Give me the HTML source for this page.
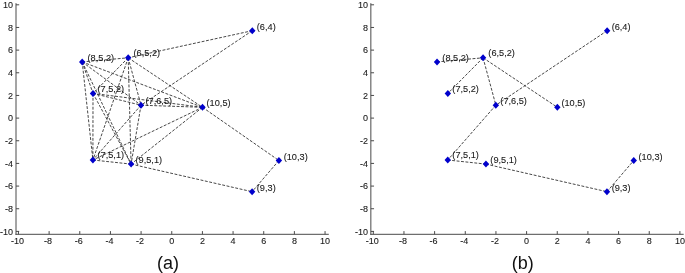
<!DOCTYPE html><html><head><meta charset="utf-8"><style>html,body{margin:0;padding:0;background:#fff;}svg{display:block;will-change:transform;}text{font-family:"Liberation Sans",sans-serif;}</style></head><body>
<svg width="685" height="273" viewBox="0 0 685 273">
<rect x="0" y="0" width="685" height="273" fill="#fff"/>
<g stroke="#4a4a4a" stroke-width="1" fill="none">
<line x1="16.00" y1="3.2" x2="16.00" y2="234.80"/>
<line x1="15.50" y1="234.30" x2="328.80" y2="234.30"/>
<line x1="16.00" y1="231.40" x2="19.20" y2="231.40"/>
<line x1="18.45" y1="234.30" x2="18.45" y2="231.10"/>
<line x1="16.00" y1="208.74" x2="19.20" y2="208.74"/>
<line x1="49.11" y1="234.30" x2="49.11" y2="231.10"/>
<line x1="16.00" y1="186.08" x2="19.20" y2="186.08"/>
<line x1="79.77" y1="234.30" x2="79.77" y2="231.10"/>
<line x1="16.00" y1="163.42" x2="19.20" y2="163.42"/>
<line x1="110.43" y1="234.30" x2="110.43" y2="231.10"/>
<line x1="16.00" y1="140.76" x2="19.20" y2="140.76"/>
<line x1="141.09" y1="234.30" x2="141.09" y2="231.10"/>
<line x1="16.00" y1="118.10" x2="19.20" y2="118.10"/>
<line x1="171.75" y1="234.30" x2="171.75" y2="231.10"/>
<line x1="16.00" y1="95.44" x2="19.20" y2="95.44"/>
<line x1="202.41" y1="234.30" x2="202.41" y2="231.10"/>
<line x1="16.00" y1="72.78" x2="19.20" y2="72.78"/>
<line x1="233.07" y1="234.30" x2="233.07" y2="231.10"/>
<line x1="16.00" y1="50.12" x2="19.20" y2="50.12"/>
<line x1="263.73" y1="234.30" x2="263.73" y2="231.10"/>
<line x1="16.00" y1="27.46" x2="19.20" y2="27.46"/>
<line x1="294.39" y1="234.30" x2="294.39" y2="231.10"/>
<line x1="16.00" y1="4.80" x2="19.20" y2="4.80"/>
<line x1="325.05" y1="234.30" x2="325.05" y2="231.10"/>
</g>
<g font-size="9" fill="#1a1a1a" stroke="#1a1a1a" stroke-width="0.1">
<text x="13.10" y="234.50" text-anchor="end">-10</text>
<text x="17.45" y="243.90" text-anchor="middle">-10</text>
<text x="13.10" y="211.84" text-anchor="end">-8</text>
<text x="48.11" y="243.90" text-anchor="middle">-8</text>
<text x="13.10" y="189.18" text-anchor="end">-6</text>
<text x="78.77" y="243.90" text-anchor="middle">-6</text>
<text x="13.10" y="166.52" text-anchor="end">-4</text>
<text x="109.43" y="243.90" text-anchor="middle">-4</text>
<text x="13.10" y="143.86" text-anchor="end">-2</text>
<text x="140.09" y="243.90" text-anchor="middle">-2</text>
<text x="13.10" y="121.20" text-anchor="end">0</text>
<text x="171.75" y="243.90" text-anchor="middle">0</text>
<text x="13.10" y="98.54" text-anchor="end">2</text>
<text x="202.41" y="243.90" text-anchor="middle">2</text>
<text x="13.10" y="75.88" text-anchor="end">4</text>
<text x="233.07" y="243.90" text-anchor="middle">4</text>
<text x="13.10" y="53.22" text-anchor="end">6</text>
<text x="263.73" y="243.90" text-anchor="middle">6</text>
<text x="13.10" y="30.56" text-anchor="end">8</text>
<text x="294.39" y="243.90" text-anchor="middle">8</text>
<text x="13.10" y="7.90" text-anchor="end">10</text>
<text x="325.05" y="243.90" text-anchor="middle">10</text>
</g>
<g stroke="#333" stroke-width="0.9" stroke-dasharray="2.9 1.55" fill="none">
<line x1="82.20" y1="61.90" x2="128.20" y2="57.80"/>
<line x1="82.20" y1="61.90" x2="93.00" y2="93.40"/>
<line x1="82.20" y1="61.90" x2="141.00" y2="105.20"/>
<line x1="82.20" y1="61.90" x2="202.50" y2="107.30"/>
<line x1="82.20" y1="61.90" x2="92.90" y2="160.00"/>
<line x1="82.20" y1="61.90" x2="131.10" y2="164.10"/>
<line x1="128.20" y1="57.80" x2="93.00" y2="93.40"/>
<line x1="128.20" y1="57.80" x2="141.00" y2="105.20"/>
<line x1="128.20" y1="57.80" x2="202.50" y2="107.30"/>
<line x1="128.20" y1="57.80" x2="92.90" y2="160.00"/>
<line x1="128.20" y1="57.80" x2="131.10" y2="164.10"/>
<line x1="93.00" y1="93.40" x2="141.00" y2="105.20"/>
<line x1="93.00" y1="93.40" x2="202.50" y2="107.30"/>
<line x1="93.00" y1="93.40" x2="92.90" y2="160.00"/>
<line x1="93.00" y1="93.40" x2="131.10" y2="164.10"/>
<line x1="141.00" y1="105.20" x2="202.50" y2="107.30"/>
<line x1="141.00" y1="105.20" x2="92.90" y2="160.00"/>
<line x1="141.00" y1="105.20" x2="131.10" y2="164.10"/>
<line x1="202.50" y1="107.30" x2="92.90" y2="160.00"/>
<line x1="202.50" y1="107.30" x2="131.10" y2="164.10"/>
<line x1="92.90" y1="160.00" x2="131.10" y2="164.10"/>
<line x1="252.30" y1="30.70" x2="128.20" y2="57.80"/>
<line x1="252.30" y1="30.70" x2="141.00" y2="105.20"/>
<line x1="202.50" y1="107.30" x2="278.90" y2="160.50"/>
<line x1="278.90" y1="160.50" x2="252.10" y2="191.70"/>
<line x1="131.10" y1="164.10" x2="252.10" y2="191.70"/>
</g>
<g fill="#0000cc">
<path d="M82.20 58.40L85.40 61.90L82.20 65.40L79.00 61.90Z"/>
<path d="M128.20 54.30L131.40 57.80L128.20 61.30L125.00 57.80Z"/>
<path d="M93.00 89.90L96.20 93.40L93.00 96.90L89.80 93.40Z"/>
<path d="M141.00 101.70L144.20 105.20L141.00 108.70L137.80 105.20Z"/>
<path d="M202.50 103.80L205.70 107.30L202.50 110.80L199.30 107.30Z"/>
<path d="M252.30 27.20L255.50 30.70L252.30 34.20L249.10 30.70Z"/>
<path d="M278.90 157.00L282.10 160.50L278.90 164.00L275.70 160.50Z"/>
<path d="M92.90 156.50L96.10 160.00L92.90 163.50L89.70 160.00Z"/>
<path d="M131.10 160.60L134.30 164.10L131.10 167.60L127.90 164.10Z"/>
<path d="M252.10 188.20L255.30 191.70L252.10 195.20L248.90 191.70Z"/>
</g>
<g font-size="9.2" fill="#1a1a1a" stroke="#1a1a1a" stroke-width="0.1">
<text x="87.50" y="60.50">(8,5,2)</text>
<text x="133.50" y="56.25">(6,5,2)</text>
<text x="97.50" y="91.80">(7,5,2)</text>
<text x="145.50" y="103.50">(7,6,5)</text>
<text x="206.55" y="106.00">(10,5)</text>
<text x="256.80" y="30.00">(6,4)</text>
<text x="283.70" y="159.70">(10,3)</text>
<text x="97.50" y="157.80">(7,5,1)</text>
<text x="135.50" y="162.50">(9,5,1)</text>
<text x="256.80" y="191.00">(9,3)</text>
</g>
<text x="168.00" y="268.8" font-size="18" text-anchor="middle" fill="#111">(a)</text>
<g stroke="#4a4a4a" stroke-width="1" fill="none">
<line x1="370.85" y1="3.2" x2="370.85" y2="234.80"/>
<line x1="370.35" y1="234.30" x2="683.65" y2="234.30"/>
<line x1="370.85" y1="231.40" x2="374.05" y2="231.40"/>
<line x1="373.30" y1="234.30" x2="373.30" y2="231.10"/>
<line x1="370.85" y1="208.74" x2="374.05" y2="208.74"/>
<line x1="403.96" y1="234.30" x2="403.96" y2="231.10"/>
<line x1="370.85" y1="186.08" x2="374.05" y2="186.08"/>
<line x1="434.62" y1="234.30" x2="434.62" y2="231.10"/>
<line x1="370.85" y1="163.42" x2="374.05" y2="163.42"/>
<line x1="465.28" y1="234.30" x2="465.28" y2="231.10"/>
<line x1="370.85" y1="140.76" x2="374.05" y2="140.76"/>
<line x1="495.94" y1="234.30" x2="495.94" y2="231.10"/>
<line x1="370.85" y1="118.10" x2="374.05" y2="118.10"/>
<line x1="526.60" y1="234.30" x2="526.60" y2="231.10"/>
<line x1="370.85" y1="95.44" x2="374.05" y2="95.44"/>
<line x1="557.26" y1="234.30" x2="557.26" y2="231.10"/>
<line x1="370.85" y1="72.78" x2="374.05" y2="72.78"/>
<line x1="587.92" y1="234.30" x2="587.92" y2="231.10"/>
<line x1="370.85" y1="50.12" x2="374.05" y2="50.12"/>
<line x1="618.58" y1="234.30" x2="618.58" y2="231.10"/>
<line x1="370.85" y1="27.46" x2="374.05" y2="27.46"/>
<line x1="649.24" y1="234.30" x2="649.24" y2="231.10"/>
<line x1="370.85" y1="4.80" x2="374.05" y2="4.80"/>
<line x1="679.90" y1="234.30" x2="679.90" y2="231.10"/>
</g>
<g font-size="9" fill="#1a1a1a" stroke="#1a1a1a" stroke-width="0.1">
<text x="367.95" y="234.50" text-anchor="end">-10</text>
<text x="372.30" y="243.90" text-anchor="middle">-10</text>
<text x="367.95" y="211.84" text-anchor="end">-8</text>
<text x="402.96" y="243.90" text-anchor="middle">-8</text>
<text x="367.95" y="189.18" text-anchor="end">-6</text>
<text x="433.62" y="243.90" text-anchor="middle">-6</text>
<text x="367.95" y="166.52" text-anchor="end">-4</text>
<text x="464.28" y="243.90" text-anchor="middle">-4</text>
<text x="367.95" y="143.86" text-anchor="end">-2</text>
<text x="494.94" y="243.90" text-anchor="middle">-2</text>
<text x="367.95" y="121.20" text-anchor="end">0</text>
<text x="526.60" y="243.90" text-anchor="middle">0</text>
<text x="367.95" y="98.54" text-anchor="end">2</text>
<text x="557.26" y="243.90" text-anchor="middle">2</text>
<text x="367.95" y="75.88" text-anchor="end">4</text>
<text x="587.92" y="243.90" text-anchor="middle">4</text>
<text x="367.95" y="53.22" text-anchor="end">6</text>
<text x="618.58" y="243.90" text-anchor="middle">6</text>
<text x="367.95" y="30.56" text-anchor="end">8</text>
<text x="649.24" y="243.90" text-anchor="middle">8</text>
<text x="367.95" y="7.90" text-anchor="end">10</text>
<text x="679.90" y="243.90" text-anchor="middle">10</text>
</g>
<g stroke="#333" stroke-width="0.9" stroke-dasharray="2.9 1.55" fill="none">
<line x1="437.05" y1="61.90" x2="483.05" y2="57.80"/>
<line x1="483.05" y1="57.80" x2="447.85" y2="93.40"/>
<line x1="483.05" y1="57.80" x2="495.85" y2="105.20"/>
<line x1="483.05" y1="57.80" x2="557.35" y2="107.30"/>
<line x1="607.15" y1="30.70" x2="495.85" y2="105.20"/>
<line x1="495.85" y1="105.20" x2="447.75" y2="160.00"/>
<line x1="447.75" y1="160.00" x2="485.95" y2="164.10"/>
<line x1="485.95" y1="164.10" x2="606.95" y2="191.70"/>
<line x1="606.95" y1="191.70" x2="633.75" y2="160.50"/>
</g>
<g fill="#0000cc">
<path d="M437.05 58.40L440.25 61.90L437.05 65.40L433.85 61.90Z"/>
<path d="M483.05 54.30L486.25 57.80L483.05 61.30L479.85 57.80Z"/>
<path d="M447.85 89.90L451.05 93.40L447.85 96.90L444.65 93.40Z"/>
<path d="M495.85 101.70L499.05 105.20L495.85 108.70L492.65 105.20Z"/>
<path d="M557.35 103.80L560.55 107.30L557.35 110.80L554.15 107.30Z"/>
<path d="M607.15 27.20L610.35 30.70L607.15 34.20L603.95 30.70Z"/>
<path d="M633.75 157.00L636.95 160.50L633.75 164.00L630.55 160.50Z"/>
<path d="M447.75 156.50L450.95 160.00L447.75 163.50L444.55 160.00Z"/>
<path d="M485.95 160.60L489.15 164.10L485.95 167.60L482.75 164.10Z"/>
<path d="M606.95 188.20L610.15 191.70L606.95 195.20L603.75 191.70Z"/>
</g>
<g font-size="9.2" fill="#1a1a1a" stroke="#1a1a1a" stroke-width="0.1">
<text x="442.35" y="60.50">(8,5,2)</text>
<text x="488.35" y="56.25">(6,5,2)</text>
<text x="452.35" y="91.80">(7,5,2)</text>
<text x="500.35" y="103.50">(7,6,5)</text>
<text x="561.40" y="106.00">(10,5)</text>
<text x="611.65" y="30.00">(6,4)</text>
<text x="638.55" y="159.70">(10,3)</text>
<text x="452.35" y="157.80">(7,5,1)</text>
<text x="490.35" y="162.50">(9,5,1)</text>
<text x="611.65" y="191.00">(9,3)</text>
</g>
<text x="522.85" y="268.8" font-size="18" text-anchor="middle" fill="#111">(b)</text>
</svg></body></html>
